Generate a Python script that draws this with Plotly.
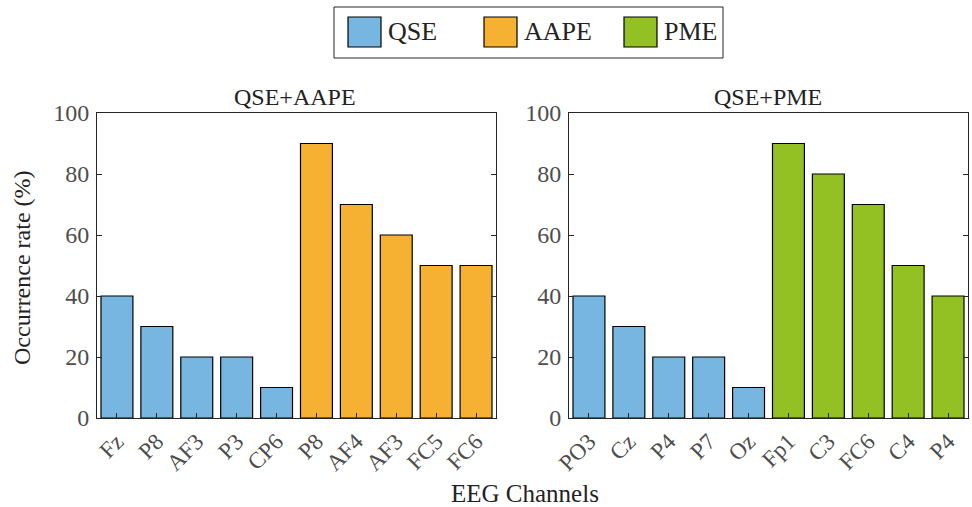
import plotly.graph_objects as go

W, H = 972, 507

series_names = ["QSE", "AAPE", "PME"]
colors = {"QSE": "#77b6e1", "AAPE": "#f6b133", "PME": "#93c022"}

left_title = "QSE+AAPE"
left_labels = ["Fz", "P8", "AF3", "P3", "CP6", "P8", "AF4", "AF3", "FC5", "FC6"]
left_values = [40, 30, 20, 20, 10, 90, 70, 60, 50, 50]
left_groups = ["QSE"] * 5 + ["AAPE"] * 5

right_title = "QSE+PME"
right_labels = ["PO3", "Cz", "P4", "P7", "Oz", "Fp1", "C3", "FC6", "C4", "P4"]
right_values = [40, 30, 20, 20, 10, 90, 80, 70, 50, 40]
right_groups = ["QSE"] * 5 + ["PME"] * 5

y_ticks = [0, 20, 40, 60, 80, 100]

FONT = "Liberation Serif"
AX = "#262626"
TICKC = "#4d4d4d"

def px_x(v):
    return v / W

def px_y(v):
    return 1 - v / H

fig = go.Figure()

for labels, values, groups, xa, ya in [
    (left_labels, left_values, left_groups, "x", "y"),
    (right_labels, right_values, right_groups, "x2", "y2"),
]:
    xs = list(range(1, len(labels) + 1))
    fig.add_trace(go.Bar(
        x=xs, y=values,
        marker=dict(color=[colors[g] for g in groups], line=dict(color="black", width=1.2)),
        width=0.8, showlegend=False, xaxis=xa, yaxis=ya,
        hoverinfo="skip",
    ))

def xaxis(domain, labels, anchor):
    return dict(
        domain=domain, range=[0.5, 10.5], anchor=anchor, automargin=False,
        tickvals=list(range(1, len(labels) + 1)), ticktext=labels,
        tickangle=-45, ticks="inside", ticklen=5, tickcolor=AX,
        showline=True, linecolor=AX, linewidth=1, mirror=True,
        showgrid=False, zeroline=False,
        tickfont=dict(family=FONT, size=23, color=TICKC),
    )

def yaxis(domain, anchor):
    return dict(
        domain=domain, range=[0, 100], anchor=anchor, automargin=False,
        tickvals=y_ticks, ticks="inside", ticklen=5, tickcolor=AX,
        showline=True, linecolor=AX, linewidth=1, mirror="ticks",
        showgrid=False, zeroline=False, ticklabelstandoff=2,
        tickfont=dict(family=FONT, size=24, color=TICKC),
    )

ydom = [px_y(418), px_y(113)]
fig.update_layout(
    width=W, height=H,
    margin=dict(l=0, r=0, t=0, b=0, autoexpand=False),
    paper_bgcolor="white", plot_bgcolor="white",
    bargap=0.2,
    xaxis=xaxis([px_x(97), px_x(496)], left_labels, "y"),
    yaxis=yaxis(ydom, "x"),
    xaxis2=xaxis([px_x(569), px_x(968)], right_labels, "y2"),
    yaxis2=yaxis(ydom, "x2"),
)

def text_ann(text, x, y, size=24, xanchor="center", angle=0):
    return dict(text=text, x=px_x(x), y=px_y(y), xref="paper", yref="paper",
                xanchor=xanchor, yanchor="middle", textangle=angle, showarrow=False,
                font=dict(family=FONT, size=size, color="#222222"))

ann = [
    text_ann(left_title, 295, 97),
    text_ann(right_title, 768, 97),
    text_ann("EEG Channels", 525, 493, size=25),
    text_ann("Occurrence rate (%)", 22, 268, size=24, angle=-90),
]

shapes = []
# legend box
shapes.append(dict(type="rect", xref="paper", yref="paper",
                   x0=px_x(334), x1=px_x(723), y0=px_y(58), y1=px_y(7),
                   line=dict(color=AX, width=1), fillcolor="white"))
sq_x = [348, 484, 624]
for name, sx in zip(series_names, sq_x):
    shapes.append(dict(type="rect", xref="paper", yref="paper",
                       x0=px_x(sx), x1=px_x(sx + 33), y0=px_y(47), y1=px_y(17),
                       line=dict(color="black", width=1.2), fillcolor=colors[name]))
    ann.append(text_ann(name, sx + 38, 32, size=26, xanchor="left"))

fig.update_layout(annotations=ann, shapes=shapes)
fig.write_html("out.html", config={"displayModeBar": False},
               post_script="document.body.style.margin='0';")
